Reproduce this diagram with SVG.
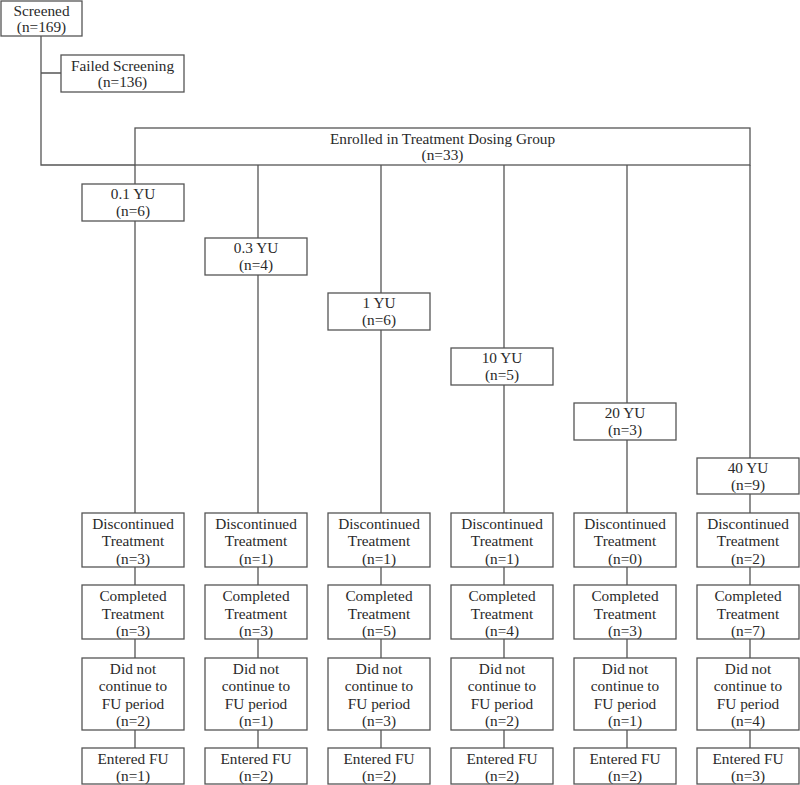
<svg xmlns="http://www.w3.org/2000/svg" width="800" height="785" viewBox="0 0 800 785">
<style>
.b{fill:#fff;stroke:#555;stroke-width:1.3}
.c{fill:none;stroke:#555;stroke-width:1.3}
text{font-family:"Liberation Serif","Times New Roman",serif;font-size:15.3px;fill:#2a2a2a;text-anchor:middle}
</style>
<rect width="800" height="785" fill="#fff"/>
<g id="connectors">
<path class="c" d="M41,36 V165 H135 M41,73 H61"/>
<path class="c" d="M135,165 V184 M258,165 V238 M381,165 V293 M504,165 V348 M627,165 V403 M750,165 V458"/>
<path class="c" d="M135,221 V513 M258,275 V513 M381,330 V513 M504,385 V513 M627,440 V513 M750,494 V513"/>
<path class="c" d="M135,567 V585 M258,567 V585 M381,567 V585 M504,567 V585 M627,567 V585 M750,567 V585"/>
<path class="c" d="M135,639 V658 M258,639 V658 M381,639 V658 M504,639 V658 M627,639 V658 M750,639 V658"/>
<path class="c" d="M135,730 V748 M258,730 V748 M381,730 V748 M504,730 V748 M627,730 V748 M750,730 V748"/>
</g>
<g id="screened"><rect class="b" x="1" y="1" width="81" height="35"/><text x="41.5" y="15.5">Screened</text><text x="41.5" y="32">(n=169)</text></g>
<g id="failed"><rect class="b" x="61" y="55" width="123" height="37"/><text x="122.5" y="70.5">Failed Screening</text><text x="122.5" y="87">(n=136)</text></g>
<g id="enrolled"><rect class="b" x="135" y="128" width="615" height="37"/><text x="442.5" y="143.5">Enrolled in Treatment Dosing Group</text><text x="442.5" y="160">(n=33)</text></g>

<g id="dose1"><rect class="b" x="82" y="184" width="102" height="37"/><text x="133" y="199">0.1 YU</text><text x="133" y="215.5">(n=6)</text></g>
<g id="dose2"><rect class="b" x="205" y="238" width="102" height="37"/><text x="256" y="253">0.3 YU</text><text x="256" y="269.5">(n=4)</text></g>
<g id="dose3"><rect class="b" x="328" y="293" width="102" height="37"/><text x="379" y="308">1 YU</text><text x="379" y="324.5">(n=6)</text></g>
<g id="dose4"><rect class="b" x="451" y="348" width="102" height="37"/><text x="502" y="363">10 YU</text><text x="502" y="379.5">(n=5)</text></g>
<g id="dose5"><rect class="b" x="574" y="403" width="102" height="37"/><text x="625" y="418">20 YU</text><text x="625" y="434.5">(n=3)</text></g>
<g id="dose6"><rect class="b" x="697" y="458" width="102" height="36"/><text x="748" y="473">40 YU</text><text x="748" y="489.5">(n=9)</text></g>

<g id="disc1"><rect class="b" x="82" y="513" width="102" height="54"/><text x="133" y="528.5">Discontinued</text><text x="133" y="546">Treatment</text><text x="133" y="563.5">(n=3)</text></g>
<g id="disc2"><rect class="b" x="205" y="513" width="102" height="54"/><text x="256" y="528.5">Discontinued</text><text x="256" y="546">Treatment</text><text x="256" y="563.5">(n=1)</text></g>
<g id="disc3"><rect class="b" x="328" y="513" width="102" height="54"/><text x="379" y="528.5">Discontinued</text><text x="379" y="546">Treatment</text><text x="379" y="563.5">(n=1)</text></g>
<g id="disc4"><rect class="b" x="451" y="513" width="102" height="54"/><text x="502" y="528.5">Discontinued</text><text x="502" y="546">Treatment</text><text x="502" y="563.5">(n=1)</text></g>
<g id="disc5"><rect class="b" x="574" y="513" width="102" height="54"/><text x="625" y="528.5">Discontinued</text><text x="625" y="546">Treatment</text><text x="625" y="563.5">(n=0)</text></g>
<g id="disc6"><rect class="b" x="697" y="513" width="102" height="54"/><text x="748" y="528.5">Discontinued</text><text x="748" y="546">Treatment</text><text x="748" y="563.5">(n=2)</text></g>

<g id="comp1"><rect class="b" x="82" y="585" width="102" height="54"/><text x="133" y="601">Completed</text><text x="133" y="618.5">Treatment</text><text x="133" y="636">(n=3)</text></g>
<g id="comp2"><rect class="b" x="205" y="585" width="102" height="54"/><text x="256" y="601">Completed</text><text x="256" y="618.5">Treatment</text><text x="256" y="636">(n=3)</text></g>
<g id="comp3"><rect class="b" x="328" y="585" width="102" height="54"/><text x="379" y="601">Completed</text><text x="379" y="618.5">Treatment</text><text x="379" y="636">(n=5)</text></g>
<g id="comp4"><rect class="b" x="451" y="585" width="102" height="54"/><text x="502" y="601">Completed</text><text x="502" y="618.5">Treatment</text><text x="502" y="636">(n=4)</text></g>
<g id="comp5"><rect class="b" x="574" y="585" width="102" height="54"/><text x="625" y="601">Completed</text><text x="625" y="618.5">Treatment</text><text x="625" y="636">(n=3)</text></g>
<g id="comp6"><rect class="b" x="697" y="585" width="102" height="54"/><text x="748" y="601">Completed</text><text x="748" y="618.5">Treatment</text><text x="748" y="636">(n=7)</text></g>

<g id="dnc1"><rect class="b" x="82" y="658" width="102" height="72"/><text x="133" y="673.5">Did not</text><text x="133" y="691">continue to</text><text x="133" y="708.5">FU period</text><text x="133" y="726">(n=2)</text></g>
<g id="dnc2"><rect class="b" x="205" y="658" width="102" height="72"/><text x="256" y="673.5">Did not</text><text x="256" y="691">continue to</text><text x="256" y="708.5">FU period</text><text x="256" y="726">(n=1)</text></g>
<g id="dnc3"><rect class="b" x="328" y="658" width="102" height="72"/><text x="379" y="673.5">Did not</text><text x="379" y="691">continue to</text><text x="379" y="708.5">FU period</text><text x="379" y="726">(n=3)</text></g>
<g id="dnc4"><rect class="b" x="451" y="658" width="102" height="72"/><text x="502" y="673.5">Did not</text><text x="502" y="691">continue to</text><text x="502" y="708.5">FU period</text><text x="502" y="726">(n=2)</text></g>
<g id="dnc5"><rect class="b" x="574" y="658" width="102" height="72"/><text x="625" y="673.5">Did not</text><text x="625" y="691">continue to</text><text x="625" y="708.5">FU period</text><text x="625" y="726">(n=1)</text></g>
<g id="dnc6"><rect class="b" x="697" y="658" width="102" height="72"/><text x="748" y="673.5">Did not</text><text x="748" y="691">continue to</text><text x="748" y="708.5">FU period</text><text x="748" y="726">(n=4)</text></g>

<g id="fu1"><rect class="b" x="82" y="748" width="102" height="36"/><text x="133" y="763.5">Entered FU</text><text x="133" y="781">(n=1)</text></g>
<g id="fu2"><rect class="b" x="205" y="748" width="102" height="36"/><text x="256" y="763.5">Entered FU</text><text x="256" y="781">(n=2)</text></g>
<g id="fu3"><rect class="b" x="328" y="748" width="102" height="36"/><text x="379" y="763.5">Entered FU</text><text x="379" y="781">(n=2)</text></g>
<g id="fu4"><rect class="b" x="451" y="748" width="102" height="36"/><text x="502" y="763.5">Entered FU</text><text x="502" y="781">(n=2)</text></g>
<g id="fu5"><rect class="b" x="574" y="748" width="102" height="36"/><text x="625" y="763.5">Entered FU</text><text x="625" y="781">(n=2)</text></g>
<g id="fu6"><rect class="b" x="697" y="748" width="102" height="36"/><text x="748" y="763.5">Entered FU</text><text x="748" y="781">(n=3)</text></g>
</svg>
